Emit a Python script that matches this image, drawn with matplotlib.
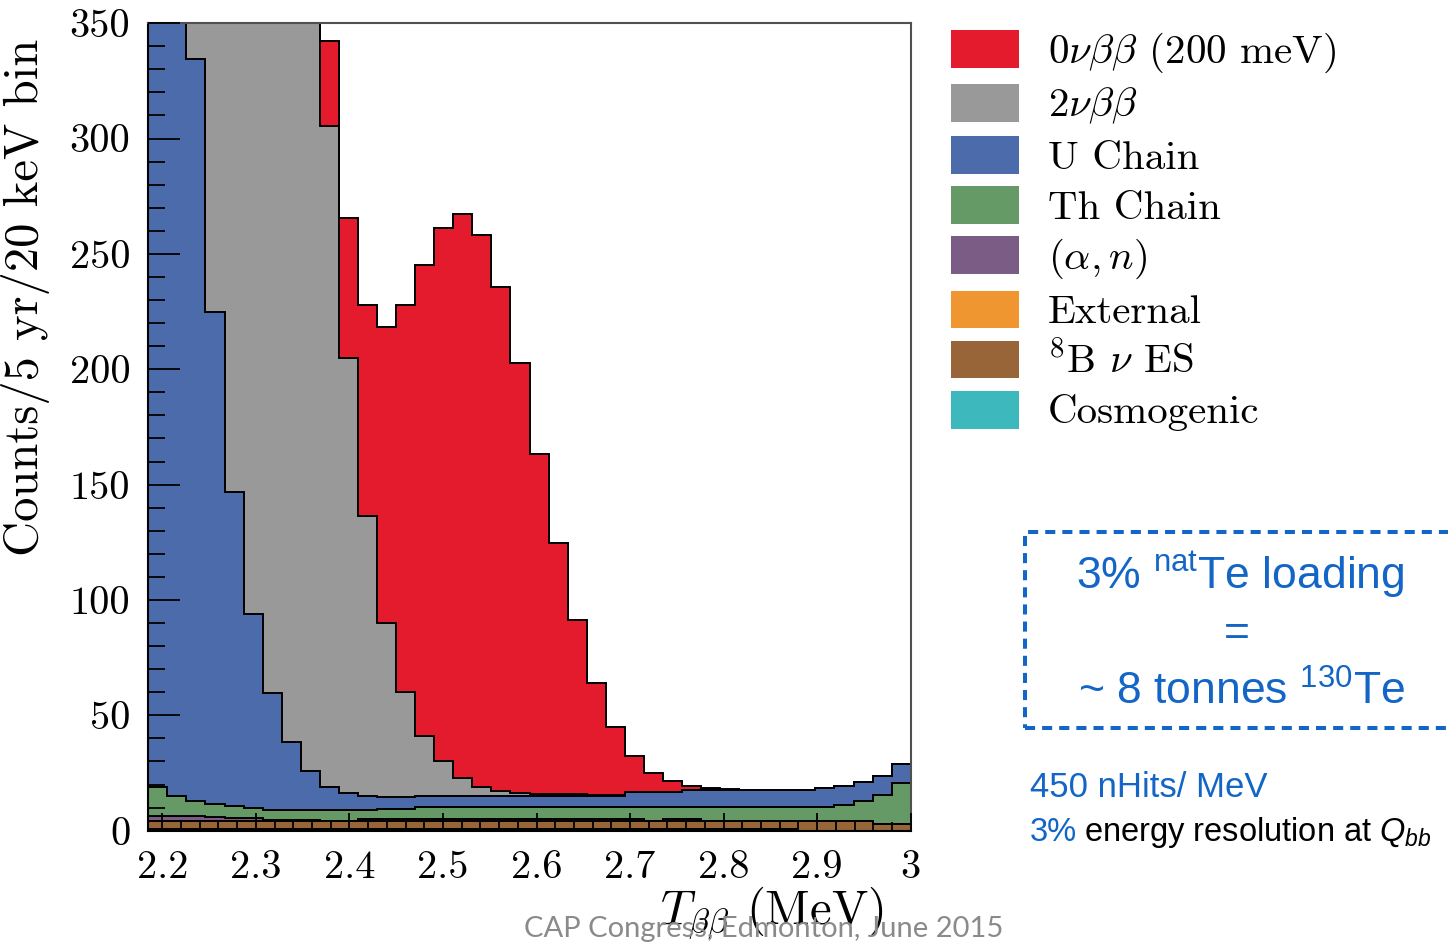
import numpy as np
import matplotlib
matplotlib.use("Agg")
import matplotlib.pyplot as plt
from matplotlib.patches import Patch, Rectangle
from matplotlib.legend_handler import HandlerPatch
from matplotlib.ticker import MultipleLocator
from matplotlib.offsetbox import TextArea, HPacker, AnchoredOffsetbox

plt.rcParams.update({
    "font.family": "cmr10",
    "mathtext.fontset": "cm",
    "axes.formatter.use_mathtext": True,
    "axes.unicode_minus": False,
    "mathtext.rm": "Liberation Sans",
    "mathtext.it": "Liberation Sans:italic",
    "mathtext.bf": "Liberation Sans:bold",
    "mathtext.sf": "Liberation Sans",
})

# ---- binning (20 keV bins over the ROI) ----
E_MIN, E_MAX, N_BINS = 2.185, 3.0, 40

# ---- counts per bin for each component, 5 yr exposure ----
cosmogenic = [0.9, 0.9, 0.9, 0.9, 0.9, 0.9, 0.9, 0.9, 0.9, 0.9,
              0.9, 0.9, 0.9, 0.9, 0.9, 0.9, 0.9, 0.9, 0.9, 0.9,
              0.9, 0.9, 0.9, 0.9, 0.9, 0.9, 0.9, 0.9, 0.9, 0.9,
              0.9, 0.9, 0.9, 0.9, 0.0, 0.0, 0.0, 0.0, 0.0, 0.0]
b8_nu_es = [3.4, 3.4, 3.4, 3.4, 3.4, 3.4, 3.4, 3.4, 3.4, 3.4,
            3.4, 3.4, 3.4, 3.4, 3.4, 3.4, 3.4, 3.4, 3.4, 3.4,
            3.4, 3.4, 3.4, 3.4, 3.4, 3.4, 3.4, 3.4, 3.4, 3.4,
            3.4, 3.4, 3.4, 3.4, 4.0, 4.0, 4.0, 4.0, 2.8, 2.8]
external = [0.0, 0.0, 0.0, 0.0, 0.0, 0.0, 0.0, 0.0, 0.0, 0.0,
            0.0, 0.8, 0.8, 0.8, 0.8, 0.8, 0.8, 0.8, 0.8, 0.8,
            0.8, 0.8, 0.8, 0.8, 0.8, 0.8, 0.0, 0.8, 0.8, 0.0,
            0.0, 0.0, 0.0, 0.0, 0.0, 0.0, 0.0, 0.0, 0.0, 0.0]
alpha_n = [2.2, 2.2, 2.0, 1.6, 1.4, 1.2, 0.5, 0.3, 0.2, 0.0,
           0.0, 0.0, 0.0, 0.0, 0.0, 0.0, 0.0, 0.0, 0.0, 0.0,
           0.0, 0.0, 0.0, 0.0, 0.0, 0.0, 0.0, 0.0, 0.0, 0.0,
           0.0, 0.0, 0.0, 0.0, 0.0, 0.0, 0.0, 0.0, 0.0, 0.0]
th_chain = [12.6, 8.4, 6.6, 5.7, 4.9, 4.2, 4.2, 4.4, 4.5, 4.7,
            4.7, 3.9, 4.5, 4.5, 5.3, 5.3, 5.3, 5.3, 5.3, 5.3,
            5.3, 5.3, 5.3, 5.3, 5.3, 5.3, 6.1, 5.3, 5.3, 6.1,
            6.1, 6.1, 6.1, 6.1, 6.4, 6.4, 7.0, 8.9, 12.7, 17.7]
u_chain = [700.0, 480.0, 321.6, 213.2, 136.1, 84.2, 50.5, 29.3, 17.0, 10.1,
           7.2, 6.0, 4.8, 4.8, 4.6, 4.6, 4.6, 4.6, 4.6, 4.6,
           4.6, 4.6, 4.8, 4.8, 4.8, 6.2, 6.2, 6.2, 7.2, 7.2,
           7.2, 7.2, 7.2, 7.2, 7.2, 8.2, 8.4, 8.1, 8.2, 8.3]
two_nu = [4200.0, 3400.0, 2700.0, 2100.0, 1600.0, 1200.0, 870.0, 620.0, 430.0, 286.2,
          188.8, 121.3, 75.8, 45.7, 26.2, 15.2, 7.9, 4.1, 2.1, 1.2,
          0.9, 0.7, 0.5, 0.4, 0.3, 0.0, 0.0, 0.0, 0.0, 0.0,
          0.0, 0.0, 0.0, 0.0, 0.0, 0.0, 0.0, 0.0, 0.0, 0.0]
zero_nu = [0.0, 0.1, 0.3, 0.7, 1.5, 3.0, 6.0, 12.0, 22.0, 37.2,
           60.7, 91.6, 128.0, 167.8, 204.0, 231.1, 244.3, 239.2, 218.7, 186.7,
           147.5, 109.1, 75.5, 48.5, 29.5, 15.8, 8.5, 4.9, 1.6, 0.8,
           0.3, 0.1, 0.0, 0.0, 0.0, 0.0, 0.0, 0.0, 0.0, 0.0]

# stacking order, bottom to top
stack = [cosmogenic, b8_nu_es, external, alpha_n, th_chain, u_chain, two_nu, zero_nu]
labels = ["Cosmogenic", r"$^{8}$B $\nu$ ES", "External", r"$(\alpha, n)$",
          "Th Chain", "U Chain", r"$2\nu\beta\beta$", r"$0\nu\beta\beta$ (200 meV)"]
colors = ["#3DB8BD", "#976538", "#EF9630", "#7A5C84",
          "#659966", "#4B6BAA", "#999999", "#E31B2C"]

xtick_values = [2.2, 2.3, 2.4, 2.5, 2.6, 2.7, 2.8, 2.9, 3.0]
xtick_labels = ["2.2", "2.3", "2.4", "2.5", "2.6", "2.7", "2.8", "2.9", "3"]
ytick_values = [0, 50, 100, 150, 200, 250, 300, 350]
ytick_labels = ["0", "50", "100", "150", "200", "250", "300", "350"]

W, H = 1448, 942
fig = plt.figure(figsize=(W / 100, H / 100), dpi=100)


def fx(px):
    return px / W


def fy(py):
    return 1 - py / H


ax = fig.add_axes([fx(148.3), fy(830.7), fx(910.7 - 148.3), (830.7 - 23.2) / H])

edges = np.linspace(E_MIN, E_MAX, N_BINS + 1)
cumulative = np.cumsum(np.array(stack, dtype=float), axis=0)

# draw the stack from the top down so each layer's outline shows like a THStack
for vals, col in reversed(list(zip(cumulative, colors))):
    ax.stairs(vals, edges, baseline=0, fill=True, facecolor=col,
              edgecolor="black", linewidth=1.4, joinstyle="miter")

ax.set_xlim(E_MIN, E_MAX)
ax.set_ylim(0, 350)
ax.set_xticks(xtick_values, xtick_labels)
ax.set_yticks(ytick_values, ytick_labels)
ax.xaxis.set_minor_locator(MultipleLocator(0.02))
ax.yaxis.set_minor_locator(MultipleLocator(10))
ax.tick_params(axis="x", which="major", direction="in", length=13, width=1.3,
               top=False, labelsize=29, pad=14)
ax.tick_params(axis="x", which="minor", direction="in", length=6.5, width=1.3, top=False)
ax.tick_params(axis="y", which="major", direction="in", length=23, width=1.3,
               right=False, labelsize=29, pad=13)
ax.tick_params(axis="y", which="minor", direction="in", length=12, width=1.3, right=False)
ax.set_axisbelow(False)
for side in ("left", "bottom"):
    ax.spines[side].set_linewidth(1.5)
    ax.spines[side].set_color("black")
for side in ("top", "right"):
    ax.spines[side].set_linewidth(1.5)
    ax.spines[side].set_color("#505050")

ax.set_ylabel("Counts/5 yr/20 keV bin", fontsize=35)
ax.yaxis.set_label_coords(-0.129, 0.661)
ax.set_xlabel(r"$T_{\beta\beta}$ (MeV)", fontsize=35)
ax.xaxis.set_label_coords(0.818, -0.067)


# legend: swatches shorter than the row pitch
def swatch(legend, orig_handle, xdescent, ydescent, width, height, fontsize):
    h = 0.92 * fontsize
    return Rectangle((-xdescent, -ydescent + (height - h) / 2), width, h)


handles = [Patch(facecolor=c, edgecolor="none") for c in colors][::-1]
ax.legend(handles, labels[::-1], handler_map={Patch: HandlerPatch(patch_func=swatch)},
          loc="upper left", bbox_to_anchor=(fx(951), fy(27)),
          bbox_transform=fig.transFigure, frameon=False, fontsize=29.5,
          handlelength=1.66, handleheight=1.26, handletextpad=0.7,
          labelspacing=0.16, borderpad=0, borderaxespad=0)

# loading note
note_blue = "#1365C6"
sans = "Liberation Sans"
fig.add_artist(Rectangle((fx(1025), fy(728)), fx(1470 - 1025), (728 - 532) / H,
                         transform=fig.transFigure, fill=False, edgecolor=note_blue,
                         linewidth=2.9, linestyle=(0, (2.5, 1.75)), clip_on=False))
fig.text(fx(1240), fy(575), r"3% $^{\mathrm{nat}}$Te loading", ha="center", va="center",
         fontsize=32, color=note_blue, family=sans, math_fontfamily="custom")
fig.text(fx(1237), fy(635), "=", ha="center", va="center",
         fontsize=32, color=note_blue, family=sans)
fig.text(fx(1241), fy(692), r"~ 8 tonnes $^{130}$Te", ha="center", va="center",
         fontsize=32, color=note_blue, family=sans, math_fontfamily="custom")

fig.text(fx(1030), fy(797), "450 nHits/ MeV", ha="left", va="baseline",
         fontsize=25, color=note_blue, family=sans)
res_line = HPacker(children=[
    TextArea("3%", textprops=dict(fontsize=23.5, color=note_blue, family=sans)),
    TextArea(r"energy resolution at $Q_{bb}$",
             textprops=dict(fontsize=23.5, color="black", family=sans, math_fontfamily="custom")),
], align="baseline", pad=0, sep=5)
fig.add_artist(AnchoredOffsetbox(loc="lower left", child=res_line, pad=0, borderpad=0,
                                 frameon=False, bbox_to_anchor=(fx(1030), fy(850)),
                                 bbox_transform=fig.transFigure))

fig.text(fx(764), fy(937), "CAP Congress, Edmonton, June 2015", ha="center", va="baseline",
         fontsize=21, color="#8a8a8a", family="Lato")

fig.savefig("out.png", dpi=100)
